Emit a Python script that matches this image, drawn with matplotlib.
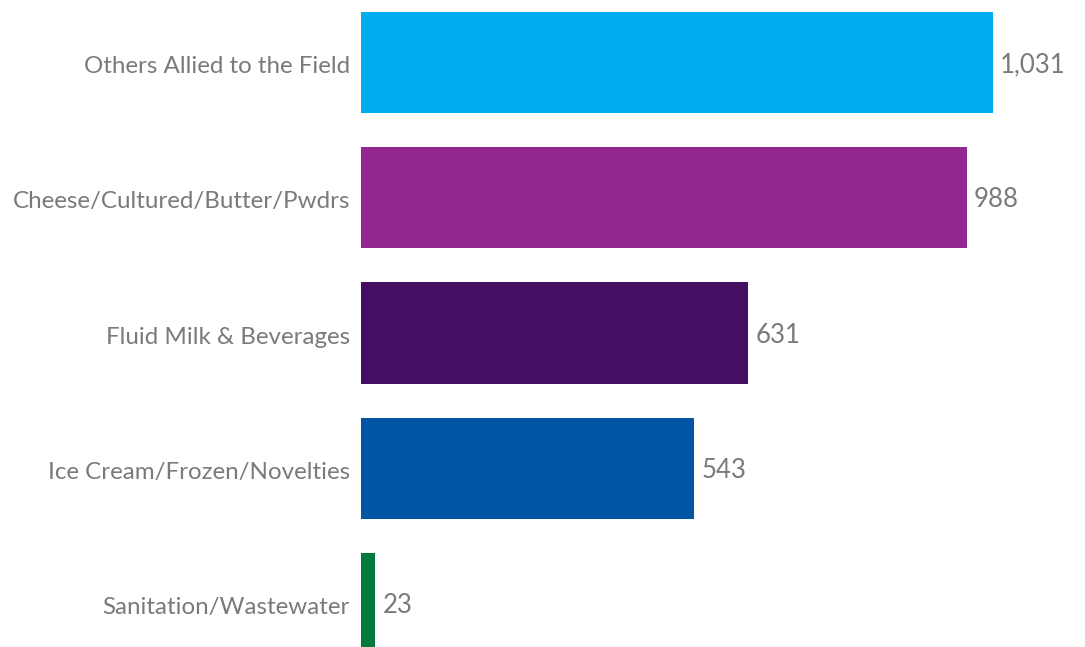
import matplotlib
matplotlib.use("Agg")
import matplotlib.pyplot as plt

categories = ["Others Allied to the Field", "Cheese/Cultured/Butter/Pwdrs",
              "Fluid Milk & Beverages", "Ice Cream/Frozen/Novelties",
              "Sanitation/Wastewater"]
values = [1031, 988, 631, 543, 23]
colors = ["#00ADEF", "#92278F", "#440E62", "#0055A5", "#007A3D"]

TEXT_COLOR = "#7a7a7a"
plt.rcParams['font.family'] = ['Lato', 'DejaVu Sans']

fig = plt.figure(figsize=(10.85, 6.47), dpi=100)
ax = fig.add_axes([361 / 1085, 0, 1 - 361 / 1085, 1])

y = list(range(len(categories)))
ax.barh(y, values, height=0.747, color=colors)

# x scale: 1031 ends at ~993 px
ax.set_xlim(0, (1085 - 361) / ((993 - 361) / 1031))
ax.set_ylim(4 + 43.5 * 4 / 541, -62.5 * 4 / 541)

for yi, v in zip(y, values):
    ax.text(v + 12, yi + 0.015, f"{v:,}", va="center", ha="left",
            fontsize=18.5, color=TEXT_COLOR)

ax.set_yticks([yi + 0.015 for yi in y])
ax.set_yticklabels(categories, fontsize=17.4, color=TEXT_COLOR)
ax.tick_params(axis="y", length=0, pad=8)
ax.set_xticks([])
for s in ax.spines.values():
    s.set_visible(False)

fig.savefig("out.png", dpi=100)
